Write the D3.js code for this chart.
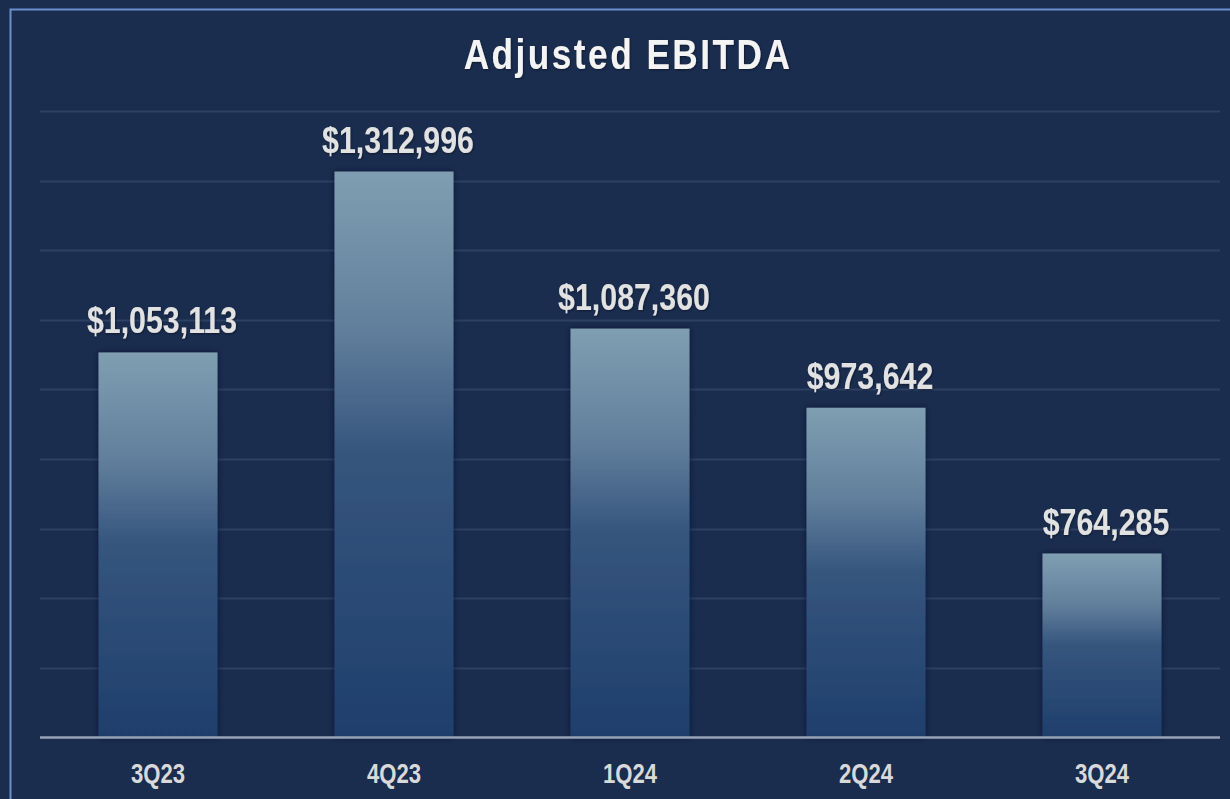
<!DOCTYPE html>
<meta charset="utf-8">
<script src="https://d3js.org/d3.v7.min.js"></script>
<style>
  body { margin: 0; background: #1a2d4f; }
</style>
<div id="my_dataviz"></div>
<script>
// data
var quarters = ["3Q23", "4Q23", "1Q24", "2Q24", "3Q24"];
var ebitda = [1053113, 1312996, 1087360, 973642, 764285];
var gridTicks = [500000, 600000, 700000, 800000, 900000, 1000000, 1100000, 1200000, 1300000, 1400000];
var title = "Adjusted EBITDA";

var W = 1230, H = 799;
var margin = {top: 111, right: 10, bottom: 61, left: 40};
var narrow = 0.82; // no narrow font installed, so squeeze Liberation Sans

var svg = d3.select("#my_dataviz")
  .append("svg")
    .attr("width", W)
    .attr("height", H);

var defs = svg.append("defs");
var grad = defs.append("linearGradient")
    .attr("id", "barGrad")
    .attr("x1", 0).attr("y1", 0).attr("x2", 0).attr("y2", 1);
grad.append("stop").attr("offset", "0%").attr("stop-color", "#809eb1");
grad.append("stop").attr("offset", "28%").attr("stop-color", "#617f9c");
grad.append("stop").attr("offset", "50%").attr("stop-color", "#35557d");
grad.append("stop").attr("offset", "100%").attr("stop-color", "#1f3e6c");

var shadow = defs.append("filter").attr("id", "barShadow")
    .attr("x", "-20%").attr("y", "-5%").attr("width", "140%").attr("height", "110%");
shadow.append("feDropShadow").attr("dx", 0).attr("dy", 0).attr("stdDeviation", 3)
    .attr("flood-color", "#0b1528").attr("flood-opacity", 0.6);

var txtShadow = defs.append("filter").attr("id", "txtShadow");
txtShadow.append("feDropShadow").attr("dx", 1).attr("dy", 1).attr("stdDeviation", 1)
    .attr("flood-color", "#000").attr("flood-opacity", 0.45);

// background + frame
svg.append("rect").attr("width", W).attr("height", H).attr("fill", "#1a2d4f");
svg.append("rect")
    .attr("x", 10.5).attr("y", 9.5)
    .attr("width", W + 20).attr("height", H + 20)
    .attr("fill", "none")
    .attr("stroke", "#6a8fd0")
    .attr("stroke-width", 2);

var x = d3.scaleBand()
    .domain(quarters)
    .range([margin.left, W - margin.right])
    .paddingInner(0.496)
    .paddingOuter(0.248);

var y = d3.scaleLinear()
    .domain([500000, 1400000])
    .range([H - margin.bottom - 0.5, margin.top]);

// gridlines
svg.append("g")
  .selectAll("line")
  .data(gridTicks.slice(1))
  .enter()
  .append("line")
    .attr("x1", margin.left)
    .attr("x2", W - margin.right)
    .attr("y1", function(d) { return Math.round(y(d)) + 0.5 })
    .attr("y2", function(d) { return Math.round(y(d)) + 0.5 })
    .attr("stroke", "#2c4163")
    .attr("stroke-width", 2);

// bars
svg.append("g")
  .selectAll("rect")
  .data(ebitda)
  .enter()
  .append("rect")
    .attr("x", function(d, i) { return x(quarters[i]) })
    .attr("width", x.bandwidth())
    .attr("y", function(d) { return y(d) })
    .attr("height", function(d) { return y(500000) - y(d) })
    .attr("fill", "url(#barGrad)")
    .attr("filter", "url(#barShadow)");

// baseline
svg.append("line")
    .attr("x1", margin.left)
    .attr("x2", W - margin.right)
    .attr("y1", y(500000))
    .attr("y2", y(500000))
    .attr("stroke", "#97a3b6")
    .attr("stroke-width", 2.5);

// value labels (sit a few px right of bar centre in the original)
svg.append("g")
  .selectAll("text")
  .data(ebitda)
  .enter()
  .append("text")
    .attr("transform", function(d, i) {
      return "translate(" + (x(quarters[i]) + x.bandwidth() / 2 + 4) + "," + (y(d) - 19) + ") scale(" + narrow + ",1)";
    })
    .attr("text-anchor", "middle")
    .attr("font-family", "'Liberation Sans', Arial, sans-serif")
    .attr("font-weight", "bold")
    .attr("font-size", 37)
    .attr("fill", "#e2e2e2")
    .attr("filter", "url(#txtShadow)")
    .text(function(d) { return "$" + d3.format(",")(d) });

// category labels
svg.append("g")
  .selectAll("text")
  .data(quarters)
  .enter()
  .append("text")
    .attr("transform", function(d) {
      return "translate(" + (x(d) + x.bandwidth() / 2) + ",783) scale(" + narrow + ",1)";
    })
    .attr("text-anchor", "middle")
    .attr("font-family", "'Liberation Sans', Arial, sans-serif")
    .attr("font-weight", "bold")
    .attr("font-size", 27)
    .attr("fill", "#d9d9d9")
    .text(function(d) { return d });

// title
svg.append("text")
    .attr("transform", "translate(628,69) scale(" + narrow + ",1)")
    .attr("text-anchor", "middle")
    .attr("font-family", "'Liberation Sans', Arial, sans-serif")
    .attr("font-weight", "bold")
    .attr("font-size", 43)
    .attr("letter-spacing", 3)
    .attr("fill", "#f4f4f4")
    .attr("filter", "url(#txtShadow)")
    .text(title);
</script>
